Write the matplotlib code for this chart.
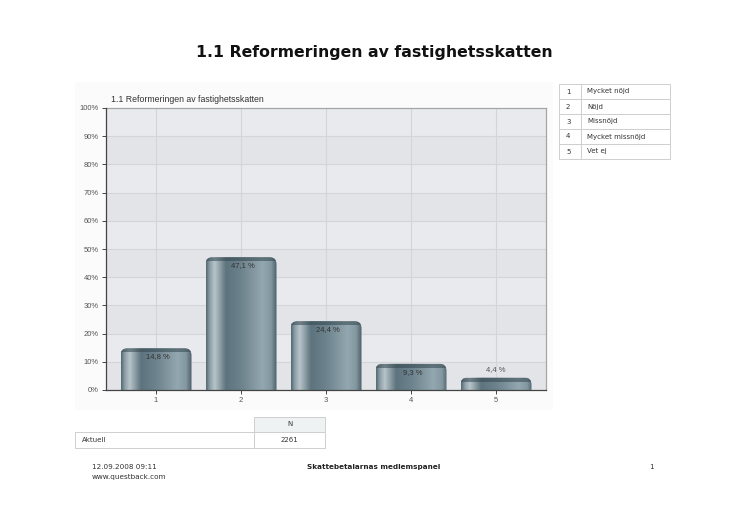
import numpy as np
import matplotlib
matplotlib.use("Agg")
import matplotlib.pyplot as plt
from matplotlib.patches import FancyBboxPatch, Rectangle
from matplotlib.colors import LinearSegmentedColormap

# ---------------- data ----------------
page_title = "1.1 Reformeringen av fastighetsskatten"
chart_title = "1.1 Reformeringen av fastighetsskatten"
categories = ["1", "2", "3", "4", "5"]
values = [14.8, 47.1, 24.4, 9.3, 4.4]
value_labels = ["14,8 %", "47,1 %", "24,4 %", "9,3 %", "4,4 %"]
yticks = [0, 10, 20, 30, 40, 50, 60, 70, 80, 90, 100]
ytick_labels = ["0%", "10%", "20%", "30%", "40%", "50%", "60%", "70%", "80%", "90%", "100%"]
legend_keys = ["1", "2", "3", "4", "5"]
legend_names = ["Mycket nöjd", "Nöjd", "Missnöjd", "Mycket missnöjd", "Vet ej"]
n_header = "N"
n_row_label = "Aktuell"
n_value = "2261"
footer_left = ["12.09.2008 09:11", "www.questback.com"]
footer_center = "Skattebetalarnas medlemspanel"
footer_right = "1"

# ---------------- figure ----------------
W, H = 746, 527
fig = plt.figure(figsize=(W / 100, H / 100), dpi=100)
fig.patch.set_facecolor("white")


def fx(x):
    return x / W


def fy(y):
    return 1 - y / H


VER = ["DejaVu Sans"]
ARIAL = ["Liberation Sans", "DejaVu Sans"]

# chart image background
bg = Rectangle((fx(75), fy(410)), fx(553) - fx(75), (410 - 82) / H,
               transform=fig.transFigure, facecolor="#fbfbfb",
               edgecolor="none", zorder=-5)
fig.patches.append(bg)

# page title
fig.text(fx(374.5), fy(52), page_title, ha="center", va="center",
         fontsize=11.3, fontweight="bold", family=VER, color="#111111")

# ---------------- axes ----------------
L, R, T, B = 106, 546, 108, 390
ax = fig.add_axes([fx(L), fy(B), (R - L) / W, (B - T) / H])
ax.set_zorder(2)
XL, XR = 1 - 50 / 85.0, 5 + 50 / 85.0
ax.set_xlim(XL, XR)
ax.set_ylim(0, 100)

for i in range(10):
    ax.axhspan(i * 10, i * 10 + 10, color="#e9eaed" if i % 2 else "#e3e4e7",
               zorder=0, lw=0)
for t in yticks[1:-1]:
    ax.axhline(t, color="#d3d5d9", lw=0.8, zorder=0.5)
xs = np.arange(1, len(categories) + 1)
for x in xs:
    ax.axvline(x, color="#d3d5d9", lw=0.8, zorder=0.5)

cmap = LinearSegmentedColormap.from_list("metal", [
    (0.00, "#566a74"),
    (0.05, "#8c9ea6"),
    (0.12, "#b8c4ca"),
    (0.20, "#8a9ca4"),
    (0.28, "#5d737e"),
    (0.50, "#6d838d"),
    (0.80, "#93a7b0"),
    (0.92, "#8498a1"),
    (1.00, "#4c606a"),
])
grad = np.linspace(0, 1, 200).reshape(1, -1)

px_x = (R - L) / (XR - XL)
px_y = (B - T) / 100.0
bw = 71.0 / px_x
r_px = 7.0
rs = r_px / px_x
ma = (r_px / px_y) / rs
cap = 4.0 / px_y

for x, v, lab in zip(xs, values, value_labels):
    patch = FancyBboxPatch((x - bw / 2, -10), bw, v + 10,
                           boxstyle=f"round,pad=0,rounding_size={rs}",
                           mutation_aspect=ma, facecolor="none",
                           edgecolor="none", transform=ax.transData)
    ax.add_patch(patch)
    im = ax.imshow(grad, extent=[x - bw / 2, x + bw / 2, 0, v], aspect="auto",
                   cmap=cmap, zorder=2, interpolation="bilinear")
    im.set_clip_path(patch)
    top = Rectangle((x - bw / 2, v - cap), bw, cap, facecolor="#34474f",
                    alpha=0.55, edgecolor="none", zorder=3)
    ax.add_patch(top)
    top.set_clip_path(patch)
    if v * px_y > 20:
        ax.annotate(lab, (x, v), xytext=(1, -6), textcoords="offset points",
                    ha="center", va="center", fontsize=5.5, family=ARIAL,
                    color="#333333", zorder=5)
    else:
        ax.annotate(lab, (x, v), xytext=(0, 6), textcoords="offset points",
                    ha="center", va="center", fontsize=5.5, family=ARIAL,
                    color="#555555", zorder=5)

ax.set_xlim(XL, XR)
ax.set_ylim(0, 100)
ax.set_xticks(xs)
ax.set_xticklabels(categories)
ax.set_yticks(yticks)
ax.set_yticklabels(ytick_labels)
ax.tick_params(length=3, width=0.7, colors="#444444", labelsize=5.5,
               labelcolor="#555555", pad=2)
for lbl in ax.get_xticklabels() + ax.get_yticklabels():
    lbl.set_family(ARIAL)
for s in ["left", "bottom"]:
    ax.spines[s].set_color("#444444")
    ax.spines[s].set_linewidth(0.9)
for s in ["top", "right"]:
    ax.spines[s].set_color("#a5a5a5")
    ax.spines[s].set_linewidth(0.9)
ax.spines["left"].set_zorder(6)
ax.spines["bottom"].set_zorder(6)

fig.text(fx(111), fy(100), chart_title, ha="left", va="center", fontsize=6.3,
         family=ARIAL, color="#333333")

# ---------------- legend table ----------------
lc = "#cfcfcf"
lx0, lx1, ldiv = 559, 670, 581
ly0, rowh = 84, 15
for i, (k, n) in enumerate(zip(legend_keys, legend_names)):
    y0 = ly0 + i * rowh
    fig.patches.append(Rectangle((fx(lx0), fy(y0 + rowh)), (ldiv - lx0) / W, rowh / H,
                                 transform=fig.transFigure, facecolor="white",
                                 edgecolor=lc, lw=0.7))
    fig.patches.append(Rectangle((fx(ldiv), fy(y0 + rowh)), (lx1 - ldiv) / W, rowh / H,
                                 transform=fig.transFigure, facecolor="white",
                                 edgecolor=lc, lw=0.7))
    fig.text(fx(566), fy(y0 + rowh / 2), k, ha="left", va="center",
             fontsize=5, family=VER, color="#333333")
    fig.text(fx(587), fy(y0 + rowh / 2), n, ha="left", va="center",
             fontsize=5, family=VER, color="#333333")

# ---------------- N table ----------------
fig.patches.append(Rectangle((fx(254), fy(432)), (325 - 254) / W, 15 / H,
                             transform=fig.transFigure, facecolor="#eef2f2",
                             edgecolor=lc, lw=0.7))
fig.patches.append(Rectangle((fx(75), fy(448)), (254 - 75) / W, 16 / H,
                             transform=fig.transFigure, facecolor="white",
                             edgecolor=lc, lw=0.7))
fig.patches.append(Rectangle((fx(254), fy(448)), (325 - 254) / W, 16 / H,
                             transform=fig.transFigure, facecolor="white",
                             edgecolor=lc, lw=0.7))
fig.text(fx(289.5), fy(424.5), n_header, ha="center", va="center", fontsize=5,
         family=VER, color="#333333")
fig.text(fx(82), fy(440), n_row_label, ha="left", va="center", fontsize=5,
         family=VER, color="#333333")
fig.text(fx(289.5), fy(440), n_value, ha="center", va="center", fontsize=5,
         family=VER, color="#333333")

# ---------------- footer ----------------
fig.text(fx(92), fy(467), footer_left[0], ha="left", va="center", fontsize=5.2,
         family=VER, color="#333333")
fig.text(fx(92), fy(477), footer_left[1], ha="left", va="center", fontsize=5.2,
         family=VER, color="#333333")
fig.text(fx(373.5), fy(467), footer_center, ha="center", va="center",
         fontsize=5.2, fontweight="bold", family=VER, color="#222222")
fig.text(fx(651), fy(467), footer_right, ha="center", va="center", fontsize=5.2,
         family=VER, color="#333333")

fig.savefig("out.png", dpi=100, facecolor="white")
